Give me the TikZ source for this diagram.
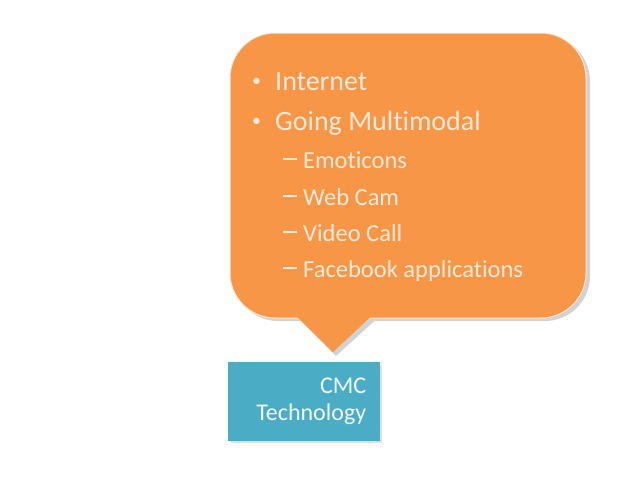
\documentclass[tikz,border=0pt]{standalone}
\usepackage{fontspec}
\setmainfont{Carlito}[Ligatures=NoCommon]
\usetikzlibrary{positioning}
\definecolor{bubbleorange}{HTML}{F79646}
\definecolor{techblue}{HTML}{4BACC6}
\definecolor{paletext}{HTML}{FDEADA}
\begin{document}
\begin{tikzpicture}[x=1pt,y=-1pt,
    item/.style={anchor=base west,inner sep=0pt,text=paletext,font=\fontsize{28}{32}\selectfont},
    subitem/.style={item,font=\fontsize{24.5}{28}\selectfont},
    dot/.style={item,font=\fontsize{18}{22}\selectfont}]
        \useasboundingbox (0,0) rectangle (638,479);

        % Gray shadow behind the speech bubble
        \fill[gray!35,rounded corners=45pt] (233,36) rectangle (590,321);
        \fill[gray!35] (294,314) -- (336,356) -- (382,314) -- cycle;

        % Orange speech bubble
        \fill[bubbleorange,draw=white!80!bubbleorange,line width=1pt,rounded corners=45pt] (230,33) rectangle (586,318);
        \coordinate (tip) at (333,352);
        \fill[bubbleorange] (290,310) -- (tip) -- (378,310) -- cycle;

        % Bullets
        \node[dot] (b1) at (252,86) {•};
        \node[item] (internet) at (275,90) {Internet};
        \node[dot] (b2) at (252,126) {•};
        \node[item] (multimodal) at (275,130) {Going Multimodal};

        % Sub items
        \foreach \name/\txt/\y in {emo/Emoticons/168, cam/Web Cam/205, call/Video Call/241, fb/Facebook applications/277} {
            \node[subitem] (dash-\name) at (283,\y) {\rule[8pt]{14pt}{2pt}};
            \node[subitem] (\name) at (303,\y) {\txt};
        }

        % Blue box with its shadow
        \fill[gray!25] (231,365) rectangle (382,443);
        \node[fill=techblue,anchor=north west,minimum width=152pt,minimum height=79pt,
              text width=124pt,align=right,inner sep=0pt,text=white!92!techblue,
              font=\fontsize{24}{27}\selectfont] (tech) at (228,362) {CMC\\Technology};
\end{tikzpicture}
\end{document}
